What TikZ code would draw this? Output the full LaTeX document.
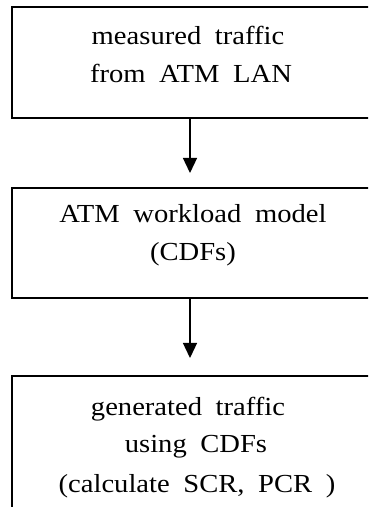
\documentclass[tikz,border=0pt]{standalone}
\usepackage{fontspec}
\setmainfont{Liberation Serif}[FakeStretch=1.1,WordSpace=1.9]
\usetikzlibrary{arrows.meta}
\begin{document}
\begin{tikzpicture}[x=1pt,y=1pt,
  box/.style={draw=black,line width=2pt,rectangle,inner sep=0pt,minimum width=368pt,anchor=north west},
  txt/.style={anchor=base,inner sep=0pt,font=\fontsize{26}{38}\selectfont},
  flow/.style={line width=1.3pt,-{Triangle[width=14pt,length=15pt]}}]
\useasboundingbox (0,0) rectangle (368,507);
\clip (0,0) rectangle (368,507);
\node[box,minimum height=111pt] (b1) at (11,501) {};
\node[box,minimum height=110pt] (b2) at (11,320) {};
\node[box,minimum height=160pt] (b3) at (11,132) {};
\coordinate (ax) at (190,0);
\node[txt] (t11) at (188,462) {measured traffic};
\node[txt] (t12) at (191,424) {from ATM LAN};
\node[txt] (t21) at (193,284) {ATM workload model};
\node[txt] (t22) at (193,246) {(CDFs)};
\node[txt] (t31) at (188,92) {generated traffic};
\node[txt] (t32) at (196,54) {using CDFs};
\node[txt] (t33) at (197,15) {(calculate SCR, PCR )};
\draw[flow,shorten >=14pt] (b1.south -| ax) -- (b2.north -| ax);
\draw[flow,shorten >=17pt] (b2.south -| ax) -- (b3.north -| ax);
\end{tikzpicture}
\end{document}
